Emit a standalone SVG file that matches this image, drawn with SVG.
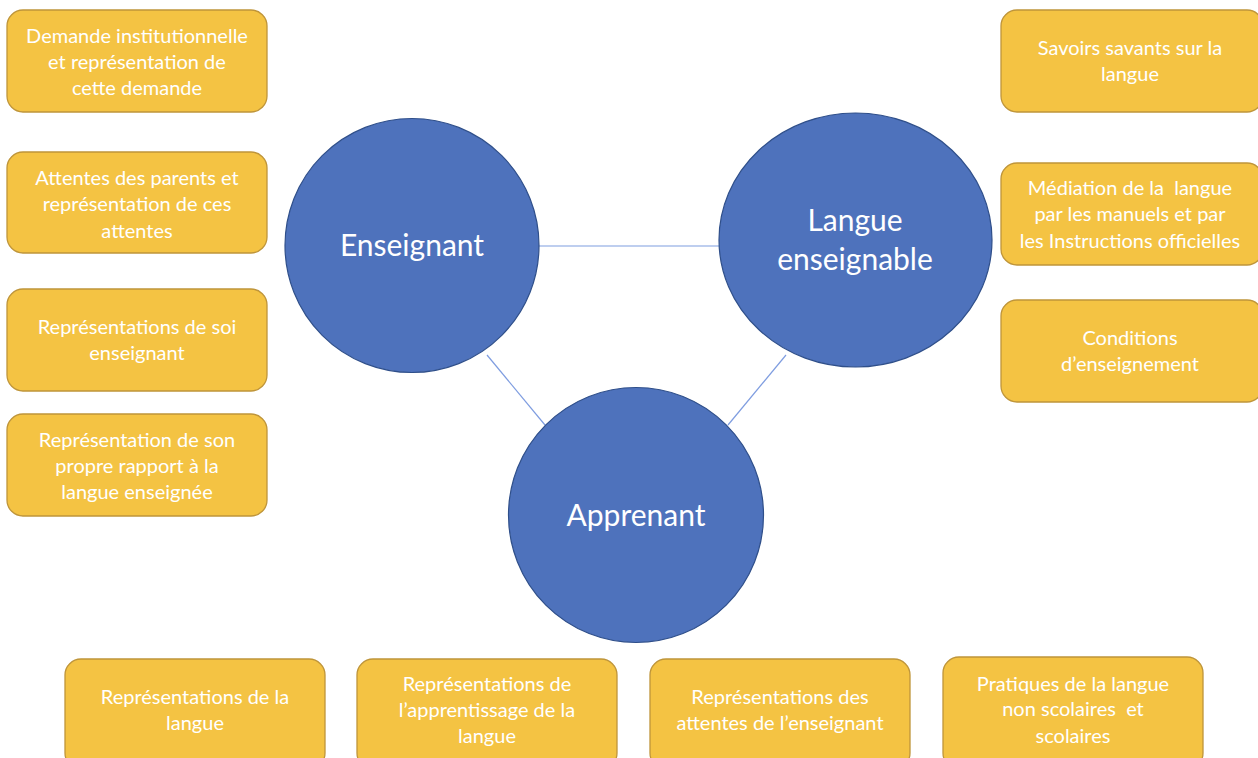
<svg xmlns="http://www.w3.org/2000/svg" width="1258" height="758" viewBox="0 0 1258 758">
  <style>
    .box { fill: #F4C343; stroke: #BF953A; stroke-width: 1.3; }
    .circ { fill: #4E72BC; stroke: #2F4F8A; stroke-width: 1.2; }
    .link { stroke: #7F9DE0; stroke-width: 1.2; fill: none; }
    .t { font-family: Lato, "Open Sans", "Liberation Sans", sans-serif; font-size: 20px; fill: #ffffff; text-anchor: middle; white-space: pre; }
    .big { font-family: Lato, "Open Sans", "Liberation Sans", sans-serif; font-size: 30px; fill: #ffffff; text-anchor: middle; }
  </style>
  <rect width="1258" height="758" fill="#ffffff"/>

  <!-- links between the three poles -->
  <g id="connectors">
    <line class="link" x1="539" y1="246" x2="719" y2="246"/>
    <line class="link" x1="487" y1="355" x2="545" y2="425"/>
    <line class="link" x1="786" y1="355" x2="728" y2="425"/>
  </g>

  <!-- poles -->
  <g id="enseignant">
    <circle class="circ" cx="412" cy="245.5" r="127"/>
    <text class="big" x="412" y="256">Enseignant</text>
  </g>
  <g id="langue">
    <ellipse class="circ" cx="855.5" cy="240" rx="136.5" ry="127"/>
    <text class="big" x="855" y="231">Langue</text>
    <text class="big" x="855" y="270">enseignable</text>
  </g>
  <g id="apprenant">
    <circle class="circ" cx="636" cy="515" r="127.5"/>
    <text class="big" x="636" y="526">Apprenant</text>
  </g>

  <!-- teacher side -->
  <g id="demande">
    <rect class="box" x="7" y="10" width="260" height="102" rx="16"/>
    <text class="t" x="137" y="43">Demande institutionnelle</text>
    <text class="t" x="137" y="69">et représentation de</text>
    <text class="t" x="137" y="95">cette demande</text>
  </g>
  <g id="attentes-parents">
    <rect class="box" x="7" y="152" width="260" height="101" rx="16"/>
    <text class="t" x="137" y="185">Attentes des parents et</text>
    <text class="t" x="137" y="211">représentation de ces</text>
    <text class="t" x="137" y="238">attentes</text>
  </g>
  <g id="soi-enseignant">
    <rect class="box" x="7" y="289" width="260" height="102" rx="16"/>
    <text class="t" x="137" y="334">Représentations de soi</text>
    <text class="t" x="137" y="360">enseignant</text>
  </g>
  <g id="rapport-langue">
    <rect class="box" x="7" y="414" width="260" height="102" rx="16"/>
    <text class="t" x="137" y="447">Représentation de son</text>
    <text class="t" x="137" y="473">propre rapport à la</text>
    <text class="t" x="137" y="499">langue enseignée</text>
  </g>

  <!-- language side -->
  <g id="savoirs">
    <rect class="box" x="1001" y="10" width="262" height="102" rx="16"/>
    <text class="t" x="1130" y="55">Savoirs savants sur la</text>
    <text class="t" x="1130" y="81">langue</text>
  </g>
  <g id="mediation">
    <rect class="box" x="1001" y="163" width="262" height="102" rx="16"/>
    <text class="t" x="1130" y="195">Médiation de la  langue</text>
    <text class="t" x="1130" y="221">par les manuels et par</text>
    <text class="t" x="1130" y="248">les Instructions officielles</text>
  </g>
  <g id="conditions">
    <rect class="box" x="1001" y="300" width="262" height="102" rx="16"/>
    <text class="t" x="1130" y="345">Conditions</text>
    <text class="t" x="1130" y="371">d’enseignement</text>
  </g>

  <!-- learner side -->
  <g id="repr-langue">
    <rect class="box" x="65" y="659" width="260" height="110" rx="16"/>
    <text class="t" x="195" y="704">Représentations de la</text>
    <text class="t" x="195" y="730">langue</text>
  </g>
  <g id="repr-apprentissage">
    <rect class="box" x="357" y="659" width="260" height="110" rx="16"/>
    <text class="t" x="487" y="691">Représentations de</text>
    <text class="t" x="487" y="717">l’apprentissage de la</text>
    <text class="t" x="487" y="743">langue</text>
  </g>
  <g id="repr-attentes">
    <rect class="box" x="650" y="659" width="260" height="110" rx="16"/>
    <text class="t" x="780" y="704">Représentations des</text>
    <text class="t" x="780" y="730">attentes de l’enseignant</text>
  </g>
  <g id="pratiques">
    <rect class="box" x="943" y="657" width="260" height="112" rx="16"/>
    <text class="t" x="1073" y="691">Pratiques de la langue</text>
    <text class="t" x="1073" y="716">non scolaires  et</text>
    <text class="t" x="1073" y="743">scolaires</text>
  </g>
</svg>
